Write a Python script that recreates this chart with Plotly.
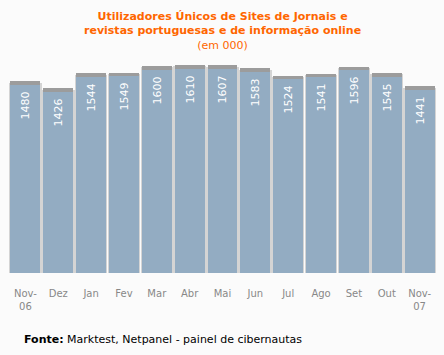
import plotly.graph_objects as go

months = ["Nov-<br>06", "Dez", "Jan", "Fev", "Mar", "Abr", "Mai", "Jun", "Jul", "Ago", "Set", "Out", "Nov-<br>07"]
users = [1480, 1426, 1544, 1549, 1600, 1610, 1607, 1583, 1524, 1541, 1596, 1545, 1441]

cap_extra = 28
shadow_extra = 18

fig = go.Figure()
fig.add_trace(go.Bar(x=months, y=[v + shadow_extra for v in users], width=0.99,
                     marker=dict(color="#d4d4d4", line=dict(width=0)), hoverinfo="skip"))
fig.add_trace(go.Bar(x=months, y=[v + cap_extra for v in users], width=0.91,
                     marker=dict(color="#9c9c9c", line=dict(width=0)), hoverinfo="skip"))
fig.add_trace(go.Bar(x=months, y=users, width=0.91,
                     marker=dict(color="#93acc2", line=dict(width=0)),
                     text=[str(v) + "\u00a0" for v in users], textposition="inside",
                     insidetextanchor="end", textangle=-90, constraintext="none",
                     textfont=dict(family="DejaVu Sans", size=11, color="white"),
                     hoverinfo="skip"))

fig.update_layout(
    width=444, height=355,
    barmode="overlay",
    showlegend=False,
    paper_bgcolor="#fbfbfb", plot_bgcolor="#fbfbfb",
    margin=dict(l=9, r=8, t=45, b=82, autoexpand=False),
    bargap=0,
    xaxis=dict(showgrid=False, zeroline=False, showline=False,
               ticks="outside", ticklen=11, tickcolor="rgba(0,0,0,0)", automargin=False,
               tickfont=dict(family="DejaVu Sans", size=10, color="#888888")),
    yaxis=dict(visible=False, range=[0, 1795], automargin=False),
    annotations=[
        dict(text="<b>Utilizadores Únicos de Sites de Jornais e<br>revistas portuguesas e de informação online</b><br>(em 000)",
             x=0.5, y=1, xref="paper", yref="paper", yanchor="bottom", xanchor="center",
             showarrow=False, align="center", yshift=-9,
             font=dict(family="DejaVu Sans", size=11, color="#ff6600")),
        dict(text="<b>Fonte:</b> Marktest, Netpanel - painel de cibernautas",
             x=(22 - 9) / (444 - 17), y=-(339 - 273) / (355 - 45 - 82),
             xref="paper", yref="paper", showarrow=False,
             xanchor="left", yanchor="middle",
             font=dict(family="DejaVu Sans", size=11, color="#000000")),
    ],
)

fig.write_html("out.html", config={"displayModeBar": False},
               post_script="document.body.style.margin='0';document.body.style.overflow='hidden';document.body.style.background='#fbfbfb';")
